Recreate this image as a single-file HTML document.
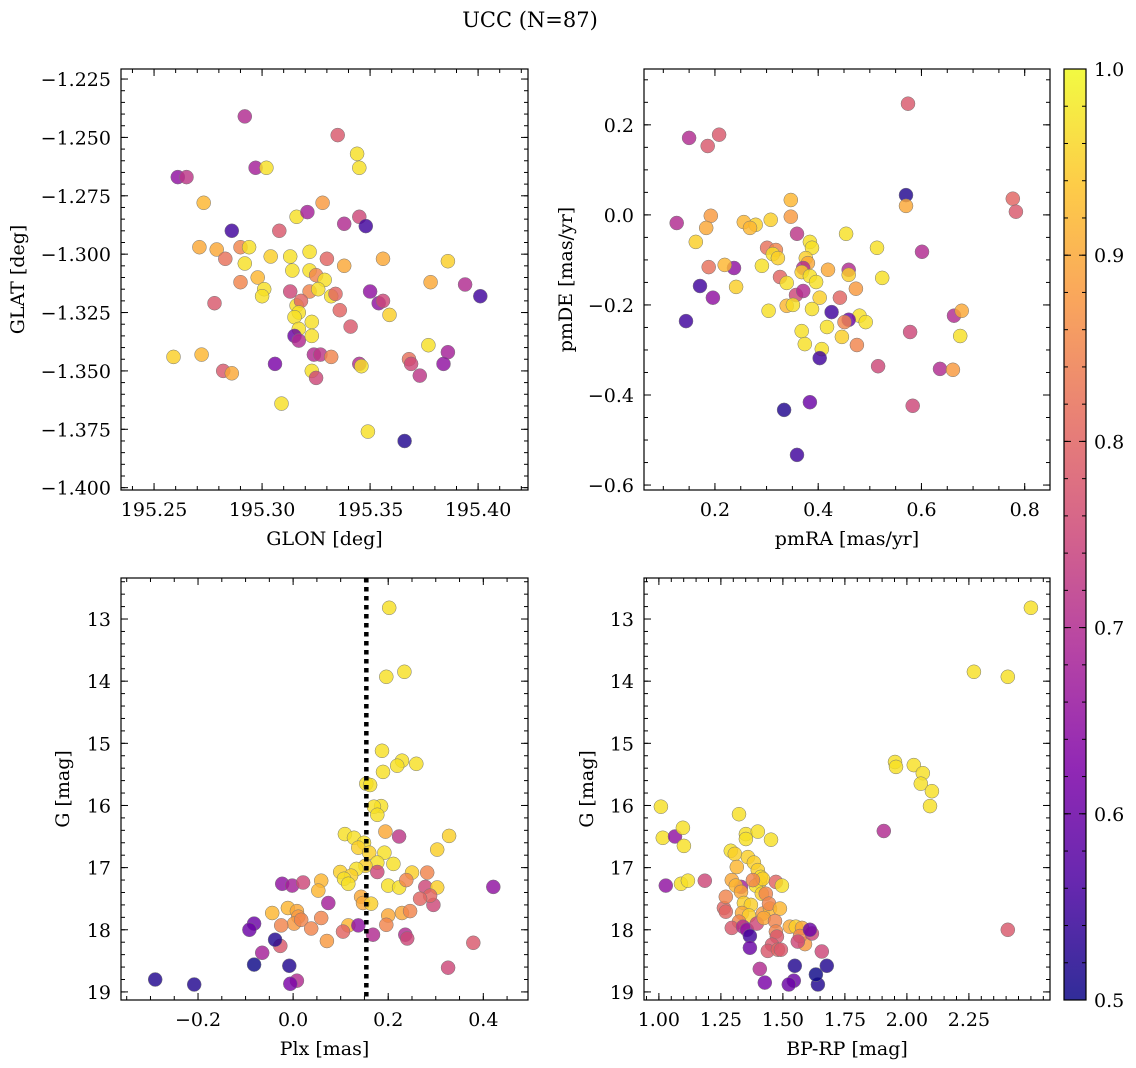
<!DOCTYPE html>
<html><head><meta charset="utf-8">
<style>
html,body{margin:0;padding:0;background:#fff;}
svg{display:block;font-family:"DejaVu Serif","Liberation Serif",serif;}
</style></head>
<body>
<svg id="fig" width="1136" height="1068" viewBox="0 0 1136 1068" xmlns="http://www.w3.org/2000/svg">
<defs>
<linearGradient id="plasma" x1="0" y1="1" x2="0" y2="0">
<stop offset="0" stop-color="#0d0887"/><stop offset="0.125" stop-color="#4c02a1"/>
<stop offset="0.25" stop-color="#7e03a8"/><stop offset="0.375" stop-color="#a92395"/>
<stop offset="0.5" stop-color="#cc4778"/><stop offset="0.625" stop-color="#e56b5d"/>
<stop offset="0.75" stop-color="#f89540"/><stop offset="0.875" stop-color="#fdc328"/>
<stop offset="1" stop-color="#f0f921"/>
</linearGradient>
</defs>
<text x="530" y="27" font-size="21" text-anchor="middle">UCC (N=87)</text>
</svg>
<script>
// Panel 1: GLON / GLAT
const glon=[195.292,195.261,195.265,195.273,195.297,195.302,195.335,195.344,195.345,195.286,195.308,195.316,195.321,195.328,195.338,195.345,195.348,195.271,195.279,195.290,195.294,195.304,195.313,195.322,195.330,195.292,195.283,195.314,195.322,195.338,195.356,195.386,195.298,195.325,195.329,195.290,195.278,195.301,195.300,195.313,195.322,195.326,195.332,195.334,195.378,195.394,195.401,195.350,195.354,195.356,195.359,195.316,195.318,195.317,195.315,195.336,195.323,195.317,195.341,195.315,195.317,195.323,195.324,195.327,195.332,195.323,195.325,195.259,195.272,195.282,195.286,195.306,195.345,195.346,195.377,195.386,195.368,195.369,195.373,195.384,195.309,195.349,195.366];
const glat=[-1.241,-1.267,-1.267,-1.278,-1.263,-1.263,-1.249,-1.257,-1.263,-1.290,-1.290,-1.284,-1.282,-1.278,-1.287,-1.284,-1.288,-1.297,-1.298,-1.297,-1.297,-1.301,-1.301,-1.299,-1.302,-1.304,-1.302,-1.307,-1.307,-1.305,-1.302,-1.303,-1.310,-1.309,-1.311,-1.312,-1.321,-1.315,-1.318,-1.316,-1.316,-1.315,-1.318,-1.317,-1.312,-1.313,-1.318,-1.316,-1.321,-1.320,-1.326,-1.322,-1.320,-1.325,-1.327,-1.324,-1.329,-1.332,-1.331,-1.335,-1.337,-1.335,-1.343,-1.343,-1.344,-1.350,-1.353,-1.344,-1.343,-1.350,-1.351,-1.347,-1.347,-1.348,-1.339,-1.342,-1.345,-1.347,-1.352,-1.347,-1.364,-1.376,-1.380];
const prob1=[.70,.65,.72,.92,.68,.97,.78,.97,.97,.55,.78,.97,.68,.88,.70,.75,.55,.90,.90,.85,.97,.95,.97,.97,.80,.97,.82,.97,.97,.90,.90,.95,.92,.85,.97,.85,.78,.97,.97,.75,.85,.97,.97,.80,.90,.70,.55,.65,.65,.75,.95,.97,.80,.97,.97,.80,.97,.97,.78,.60,.70,.97,.70,.72,.85,.97,.75,.95,.92,.78,.90,.62,.70,.97,.97,.68,.82,.75,.72,.65,.97,.97,.52];
// Panel 2: pmRA / pmDE
const pmra=[0.574,0.150,0.208,0.186,0.570,0.570,0.777,0.783,0.192,0.126,0.256,0.308,0.279,0.268,0.183,0.163,0.347,0.347,0.359,0.384,0.454,0.514,0.388,0.301,0.318,0.312,0.322,0.237,0.188,0.219,0.291,0.376,0.380,0.371,0.601,0.326,0.368,0.384,0.396,0.419,0.459,0.459,0.524,0.241,0.171,0.339,0.357,0.371,0.403,0.442,0.473,0.196,0.339,0.351,0.388,0.304,0.144,0.480,0.492,0.459,0.426,0.451,0.417,0.663,0.678,0.675,0.368,0.374,0.407,0.403,0.446,0.475,0.516,0.578,0.636,0.661,0.334,0.384,0.583,0.359];
const pmde=[0.247,0.171,0.178,0.153,0.044,0.020,0.036,0.007,-0.002,-0.018,-0.016,-0.011,-0.022,-0.029,-0.029,-0.060,0.033,-0.004,-0.042,-0.060,-0.042,-0.073,-0.073,-0.073,-0.078,-0.087,-0.096,-0.118,-0.116,-0.111,-0.113,-0.096,-0.107,-0.118,-0.082,-0.138,-0.127,-0.136,-0.149,-0.122,-0.122,-0.133,-0.140,-0.160,-0.158,-0.151,-0.178,-0.169,-0.184,-0.184,-0.164,-0.184,-0.202,-0.200,-0.209,-0.213,-0.236,-0.224,-0.238,-0.233,-0.216,-0.238,-0.249,-0.224,-0.213,-0.269,-0.258,-0.287,-0.298,-0.318,-0.271,-0.289,-0.336,-0.260,-0.342,-0.344,-0.433,-0.416,-0.424,-0.533];
const prob2=[.78,.70,.78,.78,.52,.90,.80,.78,.88,.70,.92,.95,.95,.92,.90,.95,.92,.88,.72,.97,.97,.97,.97,.82,.85,.97,.95,.65,.82,.92,.97,.95,.90,.70,.70,.80,.95,.97,.97,.90,.70,.95,.97,.95,.55,.97,.75,.70,.95,.80,.88,.65,.92,.97,.97,.97,.55,.97,.97,.60,.55,.85,.97,.70,.90,.97,.97,.97,.97,.55,.95,.85,.75,.75,.70,.88,.52,.60,.75,.55];
// Panel 3: Plx / G
const plx=[0.202,0.196,0.234,0.187,0.229,0.219,0.259,0.189,0.154,0.162,0.185,0.170,0.177,0.109,0.128,0.149,0.137,0.194,0.223,0.328,0.160,0.192,0.303,0.177,0.152,0.211,0.133,0.099,0.122,0.107,0.116,0.177,0.250,0.282,0.200,0.223,0.238,0.278,0.303,0.421,-0.023,-0.002,0.021,0.059,0.053,-0.011,-0.044,0.008,0.074,0.143,0.147,0.164,0.200,0.229,0.246,0.295,0.288,0.267,-0.082,0.011,0.002,-0.025,0.017,0.038,0.059,0.116,0.071,0.105,0.137,0.168,0.196,0.236,0.240,-0.092,-0.065,-0.027,0.379,0.326,-0.082,-0.038,-0.008,0.008,-0.006,-0.290,-0.208];
const gmag3=[12.82,13.93,13.85,15.12,15.28,15.36,15.33,15.46,15.65,15.67,16.01,16.02,16.15,16.46,16.52,16.60,16.68,16.42,16.50,16.49,16.76,16.76,16.71,16.92,16.97,16.94,17.02,17.07,17.13,17.18,17.26,17.07,17.08,17.08,17.29,17.32,17.20,17.31,17.32,17.31,17.26,17.29,17.24,17.21,17.37,17.65,17.73,17.70,17.57,17.47,17.57,17.58,17.77,17.73,17.70,17.60,17.45,17.50,17.90,17.79,17.90,17.93,17.84,17.98,17.81,17.93,18.18,18.03,17.93,18.08,17.92,18.08,18.14,18.00,18.37,18.26,18.21,18.61,18.56,18.16,18.58,18.82,18.87,18.80,18.88];
const prob3=[.97,.97,.97,.97,.97,.97,.97,.97,.97,.97,.97,.97,.97,.97,.97,.97,.95,.90,.72,.95,.95,.97,.95,.97,.95,.97,.97,.95,.95,.97,.97,.75,.95,.85,.97,.97,.85,.75,.95,.65,.65,.68,.75,.92,.92,.92,.92,.90,.68,.90,.90,.95,.90,.90,.85,.75,.80,.80,.60,.88,.88,.85,.85,.85,.85,.92,.88,.80,.65,.70,.85,.70,.75,.60,.68,.78,.78,.75,.50,.52,.52,.70,.62,.52,.52];
const plxLine=0.154;
// Panel 4: BP-RP / G
const bprp=[2.500,2.270,2.407,1.952,1.956,2.028,2.064,2.056,2.101,2.093,1.907,2.407,1.008,1.016,1.065,1.028,1.097,1.101,1.089,1.117,1.185,1.323,1.351,1.351,1.399,1.452,1.290,1.306,1.314,1.359,1.383,1.399,1.407,1.411,1.391,1.419,1.415,1.331,1.379,1.472,1.496,1.294,1.310,1.331,1.343,1.371,1.335,1.363,1.323,1.419,1.448,1.431,1.444,1.262,1.270,1.270,1.294,1.339,1.355,1.395,1.423,1.488,1.468,1.472,1.476,1.456,1.439,1.480,1.528,1.552,1.577,1.589,1.569,1.617,1.560,1.609,1.657,1.367,1.492,1.407,1.367,1.427,1.548,1.544,1.524,1.677,1.641,1.633];
const gmag4=[12.82,13.85,13.93,15.30,15.38,15.35,15.48,15.65,15.77,16.01,16.41,18.00,16.02,16.52,16.50,17.29,16.36,16.65,17.26,17.21,17.21,16.14,16.46,16.54,16.42,16.55,16.73,16.78,16.99,16.83,16.92,17.04,17.23,17.15,17.29,17.18,17.42,17.31,17.20,17.23,17.29,17.20,17.29,17.39,17.57,17.60,17.73,17.77,17.87,17.74,17.66,17.42,17.58,17.65,17.47,17.71,17.97,17.95,18.00,17.90,17.81,17.66,17.86,18.03,18.11,18.24,18.34,18.32,17.95,17.95,17.97,18.23,18.10,18.06,18.19,18.00,18.35,18.10,18.32,18.63,18.29,18.85,18.58,18.82,18.88,18.58,18.88,18.72];
const prob4=[.97,.97,.97,.97,.97,.97,.97,.97,.97,.97,.70,.78,.97,.97,.65,.65,.97,.97,.97,.97,.75,.97,.97,.97,.97,.97,.97,.95,.92,.95,.95,.95,.95,.97,.97,.95,.95,.68,.85,.80,.97,.90,.92,.90,.95,.95,.90,.95,.85,.88,.92,.85,.85,.80,.85,.80,.78,.70,.65,.75,.90,.92,.85,.85,.78,.78,.78,.80,.90,.95,.90,.88,.85,.75,.75,.60,.75,.55,.78,.70,.60,.62,.52,.60,.60,.52,.52,.50];
const cbTicks=[0.5,0.6,0.7,0.8,0.9,1.0];

const NS="http://www.w3.org/2000/svg";
const svg=document.getElementById('fig');
function mk(tag,attrs,parent){const e=document.createElementNS(NS,tag);for(const k in attrs)e.setAttribute(k,attrs[k]);(parent||svg).appendChild(e);return e;}
const stops=[[0,[13,8,135]],[.125,[76,2,161]],[.25,[126,3,168]],[.375,[169,35,149]],[.5,[204,71,120]],[.625,[229,107,93]],[.75,[248,149,64]],[.875,[253,195,40]],[1,[240,249,33]]];
function cmap(p){let t=Math.max(0,Math.min(1,(p-0.5)/0.5));for(let i=1;i<stops.length;i++){if(t<=stops[i][0]){const a=stops[i-1],b=stops[i];const f=(t-a[0])/(b[0]-a[0]);const c=a[1].map((v,j)=>Math.round(v+(b[1][j]-v)*f));return `rgb(${c[0]},${c[1]},${c[2]})`;}}return 'rgb(240,249,33)';}
function fmt(v,d){const s=Math.abs(v).toFixed(d);return (v<-1e-9?'\u2212':'')+s;}
const TFS=19, LFS=19;

function panel(o){
  const g=mk('g',{});
  
  
  const L=o.box[0],T=o.box[1],R=o.box[2],B=o.box[3];
  const sx=v=>L+(v-o.xl[0])/(o.xl[1]-o.xl[0])*(R-L);
  const sy=o.yinv?(v=>T+(v-o.yl[0])/(o.yl[1]-o.yl[0])*(B-T)):(v=>B-(v-o.yl[0])/(o.yl[1]-o.yl[0])*(B-T));
  for(let i=0;i<o.xs.length;i++){
    const c=mk('circle',{cx:sx(o.xs[i]).toFixed(1),cy:sy(o.ys[i]).toFixed(1),r:7,fill:cmap(o.ps[i]),'fill-opacity':0.82,stroke:'#777','stroke-width':0.5},g);
    
    
  }
  if(o.vline!==undefined){
    const l=mk('line',{x1:sx(o.vline),x2:sx(o.vline),y1:T,y2:B,stroke:'#000','stroke-width':4.5,'stroke-dasharray':'4.5 4.5'},g);
    
    
  }
  const fr=mk('rect',{x:L,y:T,width:R-L,height:B-T,fill:'none',stroke:'#000','stroke-width':1.2},g);
  
  
  for(let v=o.xmin[0];v<=o.xl[1]+1e-9;v+=o.xmin[1]){const x=sx(v);if(x<L-0.1||x>R+0.1)continue;
    mk('line',{x1:x,x2:x,y1:B,y2:B-4,stroke:'#000','stroke-width':1},g);mk('line',{x1:x,x2:x,y1:T,y2:T+4,stroke:'#000','stroke-width':1},g);}
  o.xt.forEach(v=>{const x=sx(v);
    mk('line',{x1:x,x2:x,y1:B,y2:B-7,stroke:'#000','stroke-width':1},g);mk('line',{x1:x,x2:x,y1:T,y2:T+7,stroke:'#000','stroke-width':1},g);
    const t=mk('text',{x:x,y:B+26,'font-size':TFS,'text-anchor':'middle'},g);t.textContent=fmt(v,o.xd);
    
    });
  for(let v=o.ymin[0];v<=Math.max(o.yl[0],o.yl[1])+1e-9;v+=o.ymin[1]){const y=sy(v);if(y<T-0.1||y>B+0.1)continue;
    mk('line',{x1:L,x2:L+4,y1:y,y2:y,stroke:'#000','stroke-width':1},g);mk('line',{x1:R,x2:R-4,y1:y,y2:y,stroke:'#000','stroke-width':1},g);}
  o.yt.forEach(v=>{const y=sy(v);
    mk('line',{x1:L,x2:L+7,y1:y,y2:y,stroke:'#000','stroke-width':1},g);mk('line',{x1:R,x2:R-7,y1:y,y2:y,stroke:'#000','stroke-width':1},g);
    const t=mk('text',{x:L-10,y:y+7,'font-size':TFS,'text-anchor':'end'},g);t.textContent=fmt(v,o.yd);
    
    });
  const xl=mk('text',{x:(L+R)/2,y:B+55,'font-size':LFS,'text-anchor':'middle'},g);xl.textContent=o.xlab;
  
  
  const yl=mk('text',{x:o.ylx,y:(T+B)/2,'font-size':LFS,'text-anchor':'middle',transform:`rotate(-90 ${o.ylx} ${(T+B)/2})`},g);yl.textContent=o.ylab;
  
  
}
const rng=(a,b,s)=>{const r=[];for(let v=a;v<=b+1e-9;v+=s)r.push(Math.round(v*1e6)/1e6);return r;};
panel({name:'glon-glat-panel',box:[121,69,528,490],xl:[195.2347,195.4231],yl:[-1.401,-1.2207],xs:glon,ys:glat,ps:prob1,
  xt:rng(195.25,195.40,0.05),xd:2,xmin:[195.24,0.01],yt:rng(-1.4,-1.225,0.025),yd:3,ymin:[-1.4,0.005],xlab:'GLON [deg]',ylab:'GLAT [deg]',ylx:24});
panel({name:'proper-motion-panel',box:[644,69,1050,490],xl:[0.0626,0.849],yl:[-0.611,0.324],xs:pmra,ys:pmde,ps:prob2,
  xt:rng(0.2,0.8,0.2),xd:1,xmin:[0.1,0.05],yt:rng(-0.6,0.2,0.2),yd:1,ymin:[-0.6,0.05],xlab:'pmRA [mas/yr]',ylab:'pmDE [mas/yr]',ylx:572});
panel({name:'parallax-cmd-panel',box:[121,578,528,1000],xl:[-0.362,0.494],yl:[12.34,19.13],yinv:true,xs:plx,ys:gmag3,ps:prob3,vline:plxLine,
  xt:rng(-0.2,0.4,0.2),xd:1,xmin:[-0.35,0.05],yt:rng(13,19,1),yd:0,ymin:[12.4,0.2],xlab:'Plx [mas]',ylab:'G [mag]',ylx:69});
panel({name:'color-magnitude-panel',box:[644,578,1050,1000],xl:[0.94,2.577],yl:[12.34,19.13],yinv:true,xs:bprp,ys:gmag4,ps:prob4,
  xt:rng(1.0,2.25,0.25),xd:2,xmin:[0.95,0.05],yt:rng(13,19,1),yd:0,ymin:[12.4,0.2],xlab:'BP-RP [mag]',ylab:'G [mag]',ylx:593});
const cb=mk('g',{});


const cT=69,cB=1000,cL=1064,cR=1086;
mk('rect',{x:cL,y:cT,width:cR-cL,height:cB-cT,fill:'url(#plasma)','fill-opacity':0.85,stroke:'#000','stroke-width':1.2},cb);
const cy=v=>cB-(v-0.5)/0.5*(cB-cT);
for(let v=0.5;v<=1.0001;v+=0.02){const y=cy(v);mk('line',{x1:cR,x2:cR-4,y1:y,y2:y,stroke:'#000','stroke-width':1},cb);mk('line',{x1:cL,x2:cL+4,y1:y,y2:y,stroke:'#000','stroke-width':1},cb);}
cbTicks.forEach(v=>{const y=cy(v);mk('line',{x1:cR,x2:cR-7,y1:y,y2:y,stroke:'#000','stroke-width':1},cb);mk('line',{x1:cL,x2:cL+7,y1:y,y2:y,stroke:'#000','stroke-width':1},cb);
  const t=mk('text',{x:cR+8,y:y+7,'font-size':TFS},cb);t.textContent=v.toFixed(1);
  
  });
</script>
</body></html>
